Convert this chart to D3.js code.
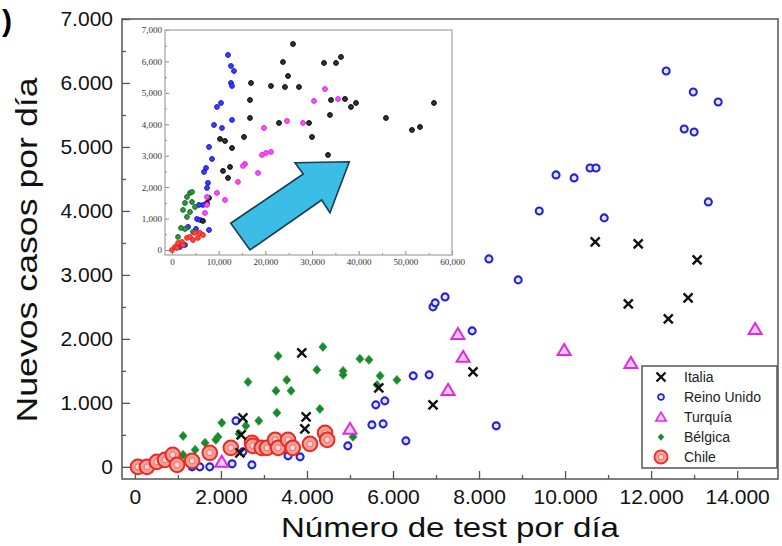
<!DOCTYPE html>
<html><head><meta charset="utf-8">
<script src="https://cdn.jsdelivr.net/npm/d3@7"></script>
<style>body{margin:0;background:#fff}svg{display:block}</style>
</head><body><svg id="c" width="782" height="546"></svg>
<script>
// ---------- main chart data ----------
const xTickValues = [0,2000,4000,6000,8000,10000,12000,14000];
const yTickValues = [0,1000,2000,3000,4000,5000,6000,7000];
const seriesNames = ["Italia","Reino Unido","Turquía","Bélgica","Chile"];

const italiaTests = [3880,5670,3980,3950,2510,2470,2440,10700,11700,13070,11470,12400,12860,7860,6930];
const italiaCasos = [1781,1234,781,594,766,500,219,3516,3484,3234,2547,2313,2641,1484,969];

const reinoTests = [2350,5600,5810,5510,5770,4950,6300,3840,3560,1740,2260,2720,1330,1510,2510,6470,6840,6930,6980,7210,7840,8400,8230,8910,9400,9790,10210,10580,10720,10910,12350,12980,13560,12770,13000,13330];
const reinoCasos = [719,969,1031,656,672,328,406,156,172,0,47,31,0,0,234,1422,1438,2500,2563,2656,2125,641,3250,2922,4000,4563,4516,4672,4672,3891,6188,5859,5703,5281,5234,4141];

const turquiaTests = [7510,7630,7280,9980,11530,14420,5000,2020];
const turquiaCasos = [2078,1719,1203,1828,1625,2156,594,80];

const belgicaTests = [4370,3330,5230,5440,4230,4840,4840,5700,6090,2630,3530,3280,3630,4300,3300,2880,2020,2580,2420,1930,1120,1630,1880,1400,1120,5070,5630];
const belgicaCasos = [1875,1734,1688,1672,1516,1500,1438,1422,1359,1328,1359,1188,1188,906,844,719,688,641,516,469,484,375,422,266,188,469,1281];

const chileTests = [70,280,510,700,880,980,1330,1740,2230,2720,2740,2950,3070,3260,3330,3560,3670,4070,4420,4470];
const chileCasos = [0,0,78,109,188,31,94,219,297,375,328,297,297,422,297,422,297,359,531,422];

// ---------- inset data ----------
const insetXTicks = [0,10000,20000,30000,40000,50000,60000];
const insetYTicks = [0,1000,2000,3000,4000,5000,6000,7000];

const insetNegroTests = [25930,23780,32570,35140,36210,24860,16930,21210,24210,27210,16710,34070,37070,38350,39430,56140,33850,16710,22930,29360,45850,51420,53140,15430,30000,10290,11360,12860,33430,10930,12430,12000,7500,6640,7930];
const insetNegroCasos = [6554,5981,5950,5950,6141,5536,5313,5218,5186,5186,4772,4772,4804,4550,4677,4677,4295,4200,4041,4041,4200,3818,3913,3595,3595,3532,3468,3245,3023,2514,2641,2291,1495,923,1654];

const insetMagentaTests = [32780,30430,35570,24640,28070,19710,20140,19280,21210,15640,15210,18430,14140,9640,11360,7500,7070,7500];
const insetMagentaCasos = [5122,4741,4804,4104,4041,3882,3086,3023,3118,2736,2673,2450,2164,1814,1591,1686,1177,1432];

const insetAzulTests = [12000,12640,13280,12640,12860,10500,9640,12860,9000,10710,7930,8570,7290,6860,7710,7500,6640,5790,5360,5140,7930,3430,6000,2790,1710];
const insetAzulCasos = [6204,5854,5695,5313,5218,4677,4550,4136,3977,3882,3277,2895,2609,2482,2132,1973,1432,1432,986,668,636,732,955,160,95];

const insetVerdeTests = [3860,4290,3210,4290,2790,4930,3860,2360,3210,1930,1290,4500,2790];
const insetVerdeCasos = [1814,1845,1686,1527,1495,1368,1209,1273,1050,700,414,573,668];

const insetRojoTests = [0,640,1290,2140,3210,3860,4930,6000,6640,1070,2360,4500,5570];
const insetRojoCasos = [0,95,223,255,382,414,541,541,477,64,159,318,382];

// arrow outline in inset data units (tests, cases)
const arrowTests = [12580,28130,26350,37990,33850,32080,16710];
const arrowCasos = [850,2418,2778,2809,1187,1591,0];

// ---------- drawing ----------
const svg = d3.select("#c");
const FONT = "'Liberation Sans', Arial, Helvetica, sans-serif";
const SERIF = "'Liberation Serif', 'Times New Roman', serif";

const x = d3.scaleLinear().domain([-300,14950]).range([122,778]);
const y = d3.scaleLinear().domain([-190,7000]).range([479,19]);

const es = d3.formatLocale({decimal:",",thousands:".",grouping:[3],currency:["",""]});
const fmtMain = es.format(",d");

svg.append("rect").attr("width",782).attr("height",546).attr("fill","#fff");

// top-left partial label
svg.append("text").attr("x",2).attr("y",31).attr("font-family",FONT).attr("font-size",30)
  .attr("font-weight","bold").text(")");

// main axes
const gx = svg.append("g").attr("transform","translate(0,479)")
  .call(d3.axisBottom(x).tickValues(xTickValues).tickFormat(fmtMain).tickSizeInner(-8).tickSizeOuter(0).tickPadding(10));
const gxm = svg.append("g").attr("transform","translate(0,479)")
  .call(d3.axisBottom(x).tickValues(d3.range(1000,15000,2000)).tickFormat("").tickSizeInner(-4).tickSizeOuter(0));
const gy = svg.append("g").attr("transform","translate(122,0)")
  .call(d3.axisLeft(y).tickValues(yTickValues).tickFormat(fmtMain).tickSizeInner(-8).tickSizeOuter(0).tickPadding(9));
const gym = svg.append("g").attr("transform","translate(122,0)")
  .call(d3.axisLeft(y).tickValues(d3.range(500,7000,1000)).tickFormat("").tickSizeInner(-4).tickSizeOuter(0));
[gx,gxm,gy,gym].forEach(g=>{
  g.select(".domain").remove();
  g.selectAll(".tick line").attr("stroke","#555").attr("stroke-width",1.3);
  g.selectAll("text").attr("font-family",FONT).attr("font-size",21).attr("fill","#111");
});

// main frame
svg.append("rect").attr("x",122).attr("y",19).attr("width",656).attr("height",460)
  .attr("fill","none").attr("stroke","#555").attr("stroke-width",1.5);

// axis titles
svg.append("text").attr("x",450).attr("y",537).attr("text-anchor","middle")
  .attr("font-family",FONT).attr("font-size",28).attr("fill","#111")
  .attr("textLength",338).attr("lengthAdjust","spacingAndGlyphs").text("Número de test por día");
svg.append("text").attr("transform","translate(37,250) rotate(-90)").attr("text-anchor","middle")
  .attr("font-family",FONT).attr("font-size",29).attr("fill","#111")
  .attr("textLength",345).attr("lengthAdjust","spacingAndGlyphs").text("Nuevos casos por día");

// ---------- inset ----------
const ix = d3.scaleLinear().domain([-1500,60000]).range([165,452]);
const iy = d3.scaleLinear().domain([-160,7000]).range([255,30]);
const fmtInset = d3.format(",d");

svg.append("rect").attr("x",138).attr("y",24).attr("width",318).attr("height",248).attr("fill","#fff");

const igx = svg.append("g").attr("transform","translate(0,255)")
  .call(d3.axisBottom(ix).tickValues(insetXTicks).tickFormat(fmtInset).tickSizeInner(-4).tickSizeOuter(0).tickPadding(4));
const igxm = svg.append("g").attr("transform","translate(0,255)")
  .call(d3.axisBottom(ix).tickValues(d3.range(5000,60000,10000)).tickFormat("").tickSizeInner(-2).tickSizeOuter(0));
const igy = svg.append("g").attr("transform","translate(165,0)")
  .call(d3.axisLeft(iy).tickValues(insetYTicks).tickFormat(fmtInset).tickSizeInner(-4).tickSizeOuter(0).tickPadding(3));
const igym = svg.append("g").attr("transform","translate(165,0)")
  .call(d3.axisLeft(iy).tickValues(d3.range(500,7000,1000)).tickFormat("").tickSizeInner(-2).tickSizeOuter(0));
[igx,igxm,igy,igym].forEach(g=>{
  g.select(".domain").remove();
  g.selectAll(".tick line").attr("stroke","#888").attr("stroke-width",1);
  g.selectAll("text").attr("font-family",SERIF).attr("font-size",9).attr("fill","#333");
});
svg.append("rect").attr("x",165).attr("y",30).attr("width",287).attr("height",225)
  .attr("fill","none").attr("stroke","#aaa").attr("stroke-width",1.3);

function insetDots(tests, casos, fill, stroke){
  svg.append("g").selectAll("circle").data(tests.map((t,i)=>[t,casos[i]])).join("circle")
    .attr("cx",d=>ix(d[0])).attr("cy",d=>iy(d[1])).attr("r",2.4)
    .attr("fill",fill).attr("stroke",stroke).attr("stroke-width",1);
}
insetDots(insetAzulTests, insetAzulCasos, "#3d3dff", "#1515c8");
insetDots(insetNegroTests, insetNegroCasos, "#333", "#000");
insetDots(insetMagentaTests, insetMagentaCasos, "#ff4dff", "#e01ee0");
insetDots(insetVerdeTests, insetVerdeCasos, "#2d9a3c", "#146a22");
insetDots(insetRojoTests, insetRojoCasos, "#ff4a3a", "#e8201a");

// arrow
const arrowPts = arrowTests.map((t,i)=>[ix(t), iy(arrowCasos[i])]);
svg.append("path").attr("d", d3.line()(arrowPts)+"Z")
  .attr("fill","#3cbde6").attr("stroke","#1c3c52").attr("stroke-width",1.6).attr("stroke-linejoin","miter");

// ---------- main markers ----------
function marker(g, type){
  if(type==="Italia"){
    g.append("path").attr("d","M-4.5,-4.5L4.5,4.5M-4.5,4.5L4.5,-4.5")
      .attr("stroke","#111").attr("stroke-width",2.4).attr("fill","none");
  } else if(type==="Reino Unido"){
    g.append("circle").attr("r",3.5).attr("fill","#e6e8ff").attr("stroke","#2424d6").attr("stroke-width",2.1);
  } else if(type==="Turquía"){
    g.append("path").attr("d","M0,-6L6.5,5L-6.5,5Z")
      .attr("fill","#f7cdf7").attr("stroke","#e02ae0").attr("stroke-width",2);
  } else if(type==="Bélgica"){
    g.append("path").attr("d","M0,-4.5L4,0L0,4.5L-4,0Z")
      .attr("fill","#178a2b").attr("stroke","#2a9a3a").attr("stroke-width",0.8);
  } else {
    g.append("circle").attr("r",7.3).attr("fill","#f6a09a").attr("stroke","#ec2a22").attr("stroke-width",2);
    g.append("circle").attr("r",3).attr("fill","#fbd3cf").attr("stroke","#ee6f68").attr("stroke-width",1);
  }
}
function series(tests, casos, type){
  const g = svg.append("g");
  tests.forEach((t,i)=>{
    const m = g.append("g").attr("transform",`translate(${x(t)},${y(casos[i])})`);
    marker(m, type);
  });
}
series(belgicaTests, belgicaCasos, "Bélgica");
series(reinoTests, reinoCasos, "Reino Unido");
series(turquiaTests, turquiaCasos, "Turquía");
series(chileTests, chileCasos, "Chile");
series(italiaTests, italiaCasos, "Italia");

// ---------- legend ----------
const lg = svg.append("g").attr("transform","translate(642,366)");
lg.append("rect").attr("width",135).attr("height",102).attr("fill","#fff")
  .attr("stroke","#555").attr("stroke-width",1.5);
const legY = d3.scalePoint().domain(seriesNames).range([11,91]);
seriesNames.forEach(n=>{
  const row = lg.append("g").attr("transform",`translate(19,${legY(n)})`);
  const m = row.append("g");
  if(n==="Reino Unido") m.attr("transform","scale(0.85)");
  if(n==="Turquía") m.attr("transform","scale(0.8)");
  if(n==="Bélgica") m.attr("transform","scale(0.75)");
  if(n==="Chile") m.attr("transform","scale(0.9)");
  marker(m, n);
  row.append("text").attr("x",23).attr("y",0).attr("dy","0.35em")
    .attr("font-family",FONT).attr("font-size",14).attr("fill","#222").text(n);
});
</script>
</body></html>
